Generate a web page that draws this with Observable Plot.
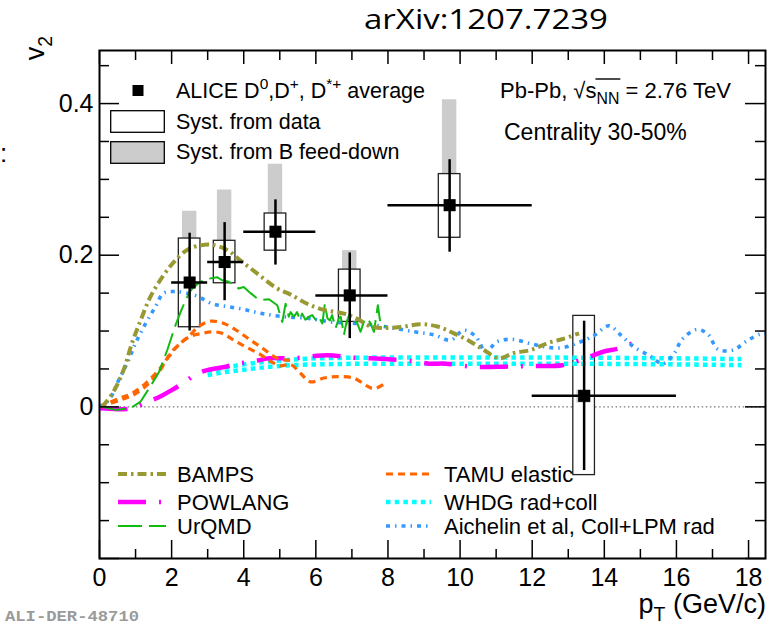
<!DOCTYPE html>
<html><head><meta charset="utf-8">
<script src="https://cdn.jsdelivr.net/npm/d3@7"></script>
<script src="https://cdn.jsdelivr.net/npm/@observablehq/plot@0.6"></script>
<style>
html,body{margin:0;padding:0;background:#fff;}
#chart{position:relative;width:773px;height:628px;overflow:hidden;}
svg text{white-space:pre;}
</style></head><body><div id="chart"></div>
<script>
// ---------------- data ----------------
const ptCenter = [2.5, 3.47, 4.88, 6.94, 9.71, 13.44];
const ptLo     = [2, 3, 4, 6, 8, 12];
const ptHi     = [3, 4, 6, 8, 12, 16];
const v2       = [0.164, 0.191, 0.231, 0.147, 0.266, 0.0145];
const statLo   = [0.100, 0.140, 0.187, 0.090, 0.204, -0.084];
const statHi   = [0.229, 0.243, 0.273, 0.203, 0.326, 0.113];
const systLo   = [0.105, 0.163, 0.206, 0.112, 0.223, -0.090];
const systHi   = [0.222, 0.219, 0.255, 0.181, 0.307, 0.120];
const feedLo   = [0.222, 0.219, 0.255, 0.181, 0.307, 0.005];
const feedHi   = [0.258, 0.286, 0.320, 0.206, 0.405, 0.022];

const bampsPt = [0.07, 0.35, 0.67, 0.9, 1.14, 1.41, 1.74, 2.06, 2.43, 2.8, 3.08, 3.54, 3.91, 4.37, 4.93, 5.3, 5.76, 6.22, 6.78, 7.15, 7.52, 7.98, 8.44, 8.9, 9.37, 9.83, 10.29, 10.66, 11.08, 11.49, 11.96, 12.42, 12.88, 13.3];
const bampsV2 = [0.0, 0.017, 0.049, 0.084, 0.114, 0.145, 0.171, 0.191, 0.207, 0.213, 0.214, 0.207, 0.193, 0.176, 0.156, 0.148, 0.136, 0.128, 0.123, 0.116, 0.106, 0.104, 0.106, 0.109, 0.106, 0.097, 0.086, 0.075, 0.064, 0.071, 0.075, 0.084, 0.090, 0.097];

const powlangPt = [0.0, 0.5, 0.9, 1.3, 1.7, 2.0, 2.34, 2.71, 3.03, 3.5, 3.86, 4.28, 4.7, 5.34, 6.32, 7.0, 7.98, 8.72, 9.13, 9.6, 10.34, 11.22, 11.96, 12.83, 13.53, 13.99, 14.4, 14.84];
const powlangV2 = [-0.002, -0.003, -0.002, 0.006, 0.014, 0.022, 0.032, 0.044, 0.049, 0.053, 0.057, 0.060, 0.064, 0.064, 0.068, 0.065, 0.063, 0.060, 0.057, 0.057, 0.053, 0.053, 0.054, 0.055, 0.065, 0.073, 0.077, 0.085];

const urqmdPt = [0.07, 0.44, 0.86, 1.14, 1.41, 1.65, 1.88, 2.11, 2.29, 2.48, 2.57, 2.8, 3.03, 3.26, 3.4, 3.59, 3.73, 3.86, 4.0, 4.19, 4.37, 4.51, 4.7, 4.93, 5.07, 5.16, 5.25,
  5.30, 5.39, 5.48, 5.56, 5.62, 5.71, 5.81, 5.90, 5.99, 6.08, 6.18, 6.25, 6.32, 6.39, 6.45, 6.55, 6.64, 6.69, 6.78, 6.85, 6.94, 7.04, 7.15, 7.24, 7.33, 7.43, 7.52, 7.61, 7.72, 7.79, 7.93];
const urqmdV2 = [0.0, -0.004, -0.002, 0.007, 0.027, 0.046, 0.075, 0.108, 0.130, 0.150, 0.156, 0.165, 0.169, 0.171, 0.167, 0.165, 0.161, 0.156, 0.158, 0.150, 0.143, 0.141, 0.142, 0.134, 0.112, 0.136, 0.119,
  0.125, 0.119, 0.125, 0.115, 0.123, 0.115, 0.119, 0.121, 0.115, 0.119, 0.110, 0.136, 0.117, 0.114, 0.121, 0.104, 0.117, 0.119, 0.095, 0.112, 0.123, 0.117, 0.110, 0.099, 0.112, 0.117, 0.110, 0.099, 0.134, 0.110, 0.106];

const tamuUpperPt = [0.0, 0.58, 0.95, 1.37, 1.69, 1.97, 2.25, 2.52, 2.75, 3.08, 3.45, 3.8, 4.16, 4.53, 4.85, 5.11, 5.39];
const tamuUpperV2 = [0.0, 0.009, 0.016, 0.031, 0.049, 0.071, 0.084, 0.095, 0.106, 0.113, 0.110, 0.101, 0.089, 0.077, 0.066, 0.062, 0.062];
const tamuLowerPt = [0.0, 0.54, 0.91, 1.28, 1.65, 1.92, 2.2, 2.52, 2.85, 3.13, 3.4, 3.72, 4.1, 4.5, 4.78, 5.02, 5.3, 5.58, 5.85, 6.22, 6.59, 7.05, 7.4, 7.61, 7.89];
const tamuLowerV2 = [0.0, 0.011, 0.018, 0.031, 0.049, 0.066, 0.082, 0.093, 0.097, 0.099, 0.097, 0.088, 0.078, 0.068, 0.059, 0.054, 0.056, 0.044, 0.033, 0.038, 0.040, 0.038, 0.028, 0.024, 0.030];

const whdgPt      = [3.0, 3.5, 4.0, 5.0, 6.0, 8.0, 12.0, 16.0, 17.8];
const whdgUpperV2 = [0.048, 0.052, 0.056, 0.061, 0.064, 0.065, 0.065, 0.064, 0.063];
const whdgLowerV2 = [0.042, 0.046, 0.049, 0.054, 0.056, 0.057, 0.057, 0.056, 0.055];

const aichelinPt = [0.0, 0.26, 0.54, 0.81, 1.0, 1.28, 1.55, 1.78, 2.11, 2.66, 3.13, 3.59, 4.05, 4.51, 5.07, 5.76, 6.41, 7.15, 7.89, 8.72, 9.27, 9.74, 10.1, 10.43, 10.71, 11.03, 11.45, 11.91, 12.37, 12.83, 13.3, 13.71, 14.13, 14.45, 14.82, 15.24, 15.63, 15.93, 16.16, 16.56, 16.87, 17.15, 17.58, 17.95, 18.32, 18.47];
const aichelinV2 = [0.0, 0.009, 0.036, 0.062, 0.084, 0.110, 0.132, 0.150, 0.152, 0.147, 0.136, 0.132, 0.128, 0.123, 0.119, 0.117, 0.112, 0.110, 0.106, 0.099, 0.095, 0.088, 0.101, 0.093, 0.073, 0.086, 0.089, 0.084, 0.079, 0.078, 0.085, 0.094, 0.107, 0.095, 0.079, 0.068, 0.057, 0.070, 0.089, 0.102, 0.096, 0.076, 0.075, 0.087, 0.096, 0.097];

const xMajorTicks = [0, 2, 4, 6, 8, 10, 12, 14, 16, 18];
const xTickLabels = ["0", "2", "4", "6", "8", "10", "12", "14", "16", "18"];
const xMinorTicks = [1, 3, 5, 7, 9, 11, 13, 15, 17];
const yMajorTicks = [-0.2, 0, 0.2, 0.4];
const yLabelTicks = [0, 0.2, 0.4];
const yTickLabels = ["0", "0.2", "0.4"];
const yMinorTicks = [-0.15, -0.1, -0.05, 0.05, 0.1, 0.15, 0.25, 0.3, 0.35, 0.45];

const modelNames = ["BAMPS", "POWLANG", "UrQMD", "TAMU elastic", "WHDG rad+coll", "Aichelin et al, Coll+LPM rad"];

// ---------------- styles ----------------
const FONT = "Liberation Sans, Arial, Helvetica, sans-serif";
const styles = {
  "BAMPS":   {stroke: "#999933", strokeWidth: 4,   strokeDasharray: "9,4,2.5,4"},
  "POWLANG": {stroke: "#ff00ff", strokeWidth: 4.5, strokeDasharray: "28,13,2,13"},
  "UrQMD":   {stroke: "#11bb11", strokeWidth: 2,   strokeDasharray: "24,7"},
  "TAMU elastic": {stroke: "#ff6600", strokeWidth: 3.2, strokeDasharray: "7,5"},
  "WHDG rad+coll": {stroke: "#00ffff", strokeWidth: 4.5, strokeDasharray: "4.5,4.2"},
  "Aichelin et al, Coll+LPM rad": {stroke: "#3399ff", strokeWidth: 3.6, strokeDasharray: "4,5,1.5,5"}
};

const W = 773, H = 628, mL = 99, mR = 8, mT = 50, mB = 70;
const fw = W - mL - mR, fh = H - mT - mB;

const pts = ptCenter.map((p, i) => ({pt: p, lo: ptLo[i], hi: ptHi[i], v: v2[i],
  sLo: statLo[i], sHi: statHi[i], yLo: systLo[i], yHi: systHi[i], fLo: feedLo[i], fHi: feedHi[i]}));
const table = (xs, ys) => xs.map((x, i) => ({x, y: ys[i]}));

const boxHalf = 0.3, feedHalf = 0.2;

const line = (data, name, curve) => Plot.line(data, {x: "x", y: "y", curve: curve || "catmull-rom",
  strokeLinecap: "butt", ...styles[name]});

const plot = Plot.plot({
  width: W, height: H, marginLeft: mL, marginRight: mR, marginTop: mT, marginBottom: mB,
  style: {fontFamily: FONT, fontSize: "25px", background: "white", color: "black", overflow: "visible"},
  x: {domain: [0, 18.47], label: null},
  y: {domain: [-0.2, 0.47], label: null},
  marks: [
    Plot.ruleY([0], {stroke: "#777", strokeWidth: 1.3, strokeDasharray: "1.5,2.6"}),
    Plot.rect(pts, {x1: d => d.pt - boxHalf, x2: d => d.pt + boxHalf, y1: "yLo", y2: "yHi", fill: "white"}),
    Plot.rect(pts, {x1: d => d.pt - feedHalf, x2: d => d.pt + feedHalf, y1: "fLo", y2: "fHi", fill: "#cccccc"}),
    Plot.rect(pts, {x1: d => d.pt - boxHalf, x2: d => d.pt + boxHalf, y1: "yLo", y2: "yHi", fill: "none", stroke: "#222", strokeWidth: 1.3}),
    line(table(whdgPt, whdgUpperV2), "WHDG rad+coll", "monotone-x"),
    line(table(whdgPt, whdgLowerV2), "WHDG rad+coll", "monotone-x"),
    line(table(powlangPt, powlangV2), "POWLANG"),
    line(table(tamuUpperPt, tamuUpperV2), "TAMU elastic"),
    line(table(tamuLowerPt, tamuLowerV2), "TAMU elastic"),
    line(table(aichelinPt, aichelinV2), "Aichelin et al, Coll+LPM rad"),
    line(table(urqmdPt, urqmdV2), "UrQMD", "linear"),
    line(table(bampsPt, bampsV2), "BAMPS"),
    Plot.ruleX(pts, {x: "pt", y1: "sLo", y2: "sHi", stroke: "black", strokeWidth: 2.5}),
    Plot.ruleY(pts, {y: "v", x1: "lo", x2: "hi", stroke: "black", strokeWidth: 2.5}),
    Plot.dot(pts, {x: "pt", y: "v", symbol: "square", r: 6.8, fill: "black", stroke: "none"}),
    // ticks (inward, on all four sides)
    Plot.tickY(yMajorTicks, {y: d => d, insetRight: fw - 20, strokeWidth: 1.5}),
    Plot.tickY(yMajorTicks, {y: d => d, insetLeft: fw - 20, strokeWidth: 1.5}),
    Plot.tickY(yMinorTicks, {y: d => d, insetRight: fw - 10, strokeWidth: 1.5}),
    Plot.tickY(yMinorTicks, {y: d => d, insetLeft: fw - 10, strokeWidth: 1.5}),
    Plot.tickX(xMajorTicks, {x: d => d, insetTop: fh - 18, strokeWidth: 1.5}),
    Plot.tickX(xMajorTicks, {x: d => d, insetBottom: fh - 14, strokeWidth: 1.5}),
    Plot.tickX(xMinorTicks, {x: d => d, insetTop: fh - 9, strokeWidth: 1.5}),
    Plot.tickX(xMinorTicks, {x: d => d, insetBottom: fh - 10, strokeWidth: 1.5}),
    Plot.frame({stroke: "black", strokeWidth: 2}),
    Plot.axisX(xMajorTicks, {tickSize: 0, tickPadding: 10, fontSize: 25,
      tickFormat: d => xTickLabels[xMajorTicks.indexOf(d)], label: null}),
    Plot.axisY(yLabelTicks, {tickSize: 0, tickPadding: 6, fontSize: 25,
      tickFormat: d => yTickLabels[yLabelTicks.indexOf(d)], label: null})
  ]
});
document.getElementById("chart").appendChild(plot);

// ---------------- annotations (title, legends, axis titles) ----------------
const svg = d3.select(plot);
const ann = svg.append("g").attr("font-family", FONT).attr("fill", "black").attr("text-anchor", "start");

function rich(g, x, y, str, size, anchor) {
  const t = g.append("text").attr("x", x).attr("y", y).attr("font-size", size)
    .attr("text-anchor", anchor || "start");
  const re = /([\^_])\{([^}]*)\}/g;
  const parts = []; let last = 0, m;
  while ((m = re.exec(str))) {
    if (m.index > last) parts.push({s: str.slice(last, m.index), k: "n"});
    parts.push({s: m[2], k: m[1] === "^" ? "sup" : "sub"});
    last = re.lastIndex;
  }
  if (last < str.length) parts.push({s: str.slice(last), k: "n"});
  let cur = 0;
  const spans = [];
  for (const p of parts) {
    const target = p.k === "sup" ? -0.42 * size : p.k === "sub" ? 0.28 * size : 0;
    const ts = t.append("tspan").text(p.s).attr("dy", target - cur);
    if (p.k !== "n") ts.attr("font-size", size * 0.72);
    spans.push(ts);
    cur = target;
  }
  t.spans = spans;
  return t;
}

// Title
ann.append("text").attr("x", 486).attr("y", 29).attr("text-anchor", "middle")
  .attr("font-family", "Open Sans, Lato, sans-serif").attr("font-size", 27)
  .attr("textLength", 244).attr("lengthAdjust", "spacingAndGlyphs")
  .text("arXiv:1207.7239");

// Header texts
const pb = rich(ann, 500, 98, "Pb-Pb, \u221As_{NN} = 2.76 TeV", 22);
{
  const sq = pb.spans[0].node();
  const nn = pb.spans[1].node();
  const b1 = sq.getBBox ? sq.getBBox() : null;
  const b2 = nn.getBBox ? nn.getBBox() : null;
  if (b1 && b2) {
    const sqrtX = b1.x + b1.width - 1;
    ann.append("line").attr("x1", sqrtX).attr("x2", b2.x + b2.width + 1)
      .attr("y1", 79).attr("y2", 79).attr("stroke", "black").attr("stroke-width", 1.4);
  }
}
rich(ann, 504, 140, "Centrality 30-50%", 23);

// Data legend
ann.append("rect").attr("x", 132.5).attr("y", 85).attr("width", 11).attr("height", 11).attr("fill", "black");
rich(ann, 176, 98, "ALICE D^{0},D^{+}, D^{*+} average", 21.5);
ann.append("rect").attr("x", 110.7).attr("y", 110.7).attr("width", 53.6).attr("height", 21.6)
  .attr("fill", "white").attr("stroke", "black").attr("stroke-width", 1.3);
rich(ann, 176, 129, "Syst. from data", 21.5);
ann.append("rect").attr("x", 110.7).attr("y", 141.7).attr("width", 53.6).attr("height", 21.6)
  .attr("fill", "#cccccc").attr("stroke", "black").attr("stroke-width", 1.3);
rich(ann, 176, 159, "Syst. from B feed-down", 21.5);

// Model legend
const legendRows = [482, 510, 534];
modelNames.forEach((name, i) => {
  const col = Math.floor(i / 3), row = i % 3;
  const x0 = col === 0 ? 118 : 386, x1 = col === 0 ? 166 : 431, tx = col === 0 ? 177 : 444;
  const yb = legendRows[row];
  const st = styles[name];
  ann.append("line").attr("x1", x0).attr("x2", x1).attr("y1", yb - 8).attr("y2", yb - 8)
    .attr("stroke", st.stroke).attr("stroke-width", st.strokeWidth)
    .attr("stroke-dasharray", st.strokeDasharray).attr("fill", "none");
  rich(ann, tx, yb, name, 22);
});

// Axis titles
rich(ann, 766, 613, "p_{T} (GeV/c)", 27, "end");
const vt = rich(ann, 0, 0, "v_{2}", 27, "end");
vt.attr("transform", "translate(44,36) rotate(-90)");

// Figure id and stray glyph
ann.append("text").attr("x", 5).attr("y", 621).attr("text-anchor", "start")
  .attr("font-family", "Liberation Mono, DejaVu Sans Mono, monospace")
  .attr("font-weight", "bold").attr("font-size", 14).attr("fill", "#9a9a9a")
  .attr("textLength", 134).attr("lengthAdjust", "spacingAndGlyphs").text("ALI-DER-48710");
ann.append("text").attr("x", 0).attr("y", 162).attr("text-anchor", "start").attr("font-size", 26).text(":");
</script></body></html>
